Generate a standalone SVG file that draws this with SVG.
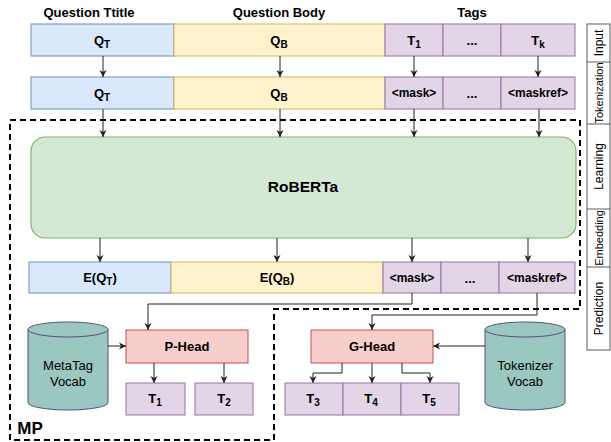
<svg xmlns="http://www.w3.org/2000/svg" width="611" height="442" viewBox="0 0 611 442">
<defs>
<marker id="arr" markerUnits="userSpaceOnUse" markerWidth="8" markerHeight="8" refX="7" refY="4" orient="auto">
<path d="M0,0.5 L7,4 L0,7.5 L2,4 Z" fill="#222"/>
</marker>
<style>
.t{font-family:"Liberation Sans",Arial,sans-serif;font-weight:bold;font-size:13px;fill:#000;text-anchor:middle}
.r{font-family:"Liberation Sans",Arial,sans-serif;font-size:13px;fill:#000;text-anchor:middle}
.s{font-size:10px}
.blue{fill:#dae8fc;stroke:#6c8ebf;stroke-width:1}
.yel{fill:#fff2cc;stroke:#d6b656;stroke-width:1}
.pur{fill:#e1d5e7;stroke:#9673a6;stroke-width:1}
.red{fill:#f8cecc;stroke:#b85450;stroke-width:1}
.grn{fill:#d5e8d4;stroke:#82b366;stroke-width:1.2}
.cyl{fill:#9ac7bf;stroke:#56517e;stroke-width:1}
.c{fill:none;stroke:#222;stroke-width:1;marker-end:url(#arr)}
.dash{fill:none;stroke:#000;stroke-width:2;stroke-dasharray:6 4}
.lab{font-family:"Liberation Sans",Arial,sans-serif;font-size:12px;fill:#000;text-anchor:middle}
</style>
</defs>
<rect width="611" height="442" fill="#fff"/>

<g id="headers">
<text class="t" x="89" y="17">Question Ttitle</text>
<text class="t" x="279" y="17">Question Body</text>
<text class="t" x="472" y="17">Tags</text>
</g>

<g id="input-row">
<rect class="blue" x="31" y="24" width="143" height="32"/>
<rect class="yel" x="174" y="24" width="211" height="32"/>
<rect class="pur" x="385" y="24" width="58" height="32"/>
<rect class="pur" x="443" y="24" width="58" height="32"/>
<rect class="pur" x="501" y="24" width="74" height="32"/>
<text class="t" x="102" y="45">Q<tspan class="s" dy="3">T</tspan></text>
<text class="t" x="279" y="45">Q<tspan class="s" dy="3">B</tspan></text>
<text class="t" x="414" y="45">T<tspan class="s" dy="3">1</tspan></text>
<text class="t" x="472" y="45">...</text>
<text class="t" x="538" y="45">T<tspan class="s" dy="3">k</tspan></text>
</g>

<g id="token-row">
<rect class="blue" x="31" y="77" width="143" height="32"/>
<rect class="yel" x="174" y="77" width="211" height="32"/>
<rect class="pur" x="385" y="77" width="58" height="32"/>
<rect class="pur" x="443" y="77" width="58" height="32"/>
<rect class="pur" x="501" y="77" width="74" height="32"/>
<text class="t" x="102" y="98">Q<tspan class="s" dy="3">T</tspan></text>
<text class="t" x="279" y="98">Q<tspan class="s" dy="3">B</tspan></text>
<text class="t" x="414" y="97" style="font-size:12px">&lt;mask&gt;</text>
<text class="t" x="472" y="98">...</text>
<text class="t" x="538" y="97" style="font-size:12px">&lt;maskref&gt;</text>
</g>

<g id="roberta">
<rect class="grn" x="31" y="137" width="545" height="101" rx="14" ry="14"/>
<text class="t" x="303" y="192" style="font-size:15.5px">RoBERTa</text>
</g>

<g id="embedding-row">
<rect class="blue" x="29" y="262" width="142" height="31"/>
<rect class="yel" x="171" y="262" width="212" height="31"/>
<rect class="pur" x="383" y="262" width="58" height="31"/>
<rect class="pur" x="441" y="262" width="58" height="31"/>
<rect class="pur" x="499" y="262" width="76" height="31"/>
<text class="t" x="100" y="282">E(Q<tspan class="s" dy="3">T</tspan><tspan dy="-3">)</tspan></text>
<text class="t" x="277" y="282">E(Q<tspan class="s" dy="3">B</tspan><tspan dy="-3">)</tspan></text>
<text class="t" x="412" y="282" style="font-size:12px">&lt;mask&gt;</text>
<text class="t" x="470" y="283">...</text>
<text class="t" x="537" y="282" style="font-size:12px">&lt;maskref&gt;</text>
</g>

<g id="metatag-vocab">
<path class="cyl" d="M28,329.5 A40,7.5 0 0 1 108,329.5 V402.5 A40,7.5 0 0 1 28,402.5 Z"/>
<path class="cyl" d="M28,329.5 A40,7.5 0 0 0 108,329.5" fill="none"/>
<text class="r" x="68" y="370">MetaTag</text>
<text class="r" x="68" y="386">Vocab</text>
</g>

<g id="p-head">
<rect class="red" x="126" y="330" width="122" height="33"/>
<text class="t" x="187" y="351">P-Head</text>
</g>

<g id="t1">
<rect class="pur" x="126" y="383" width="59" height="32"/>
<text class="t" x="155" y="403">T<tspan class="s" dy="3">1</tspan></text>
</g>
<g id="t2">
<rect class="pur" x="195" y="383" width="58" height="32"/>
<text class="t" x="224" y="403">T<tspan class="s" dy="3">2</tspan></text>
</g>

<g id="g-head">
<rect class="red" x="311" y="330" width="122" height="33"/>
<text class="t" x="372" y="351">G-Head</text>
</g>

<g id="tokenizer-vocab">
<path class="cyl" d="M485,329.5 A40,7.5 0 0 1 565,329.5 V402.5 A40,7.5 0 0 1 485,402.5 Z"/>
<path class="cyl" d="M485,329.5 A40,7.5 0 0 0 565,329.5" fill="none"/>
<text class="r" x="525" y="370">Tokenizer</text>
<text class="r" x="525" y="386">Vocab</text>
</g>

<g id="t3">
<rect class="pur" x="285" y="383" width="58" height="32"/>
<text class="t" x="313" y="403">T<tspan class="s" dy="3">3</tspan></text>
</g>
<g id="t4">
<rect class="pur" x="343" y="383" width="58" height="32"/>
<text class="t" x="371" y="403">T<tspan class="s" dy="3">4</tspan></text>
</g>
<g id="t5">
<rect class="pur" x="401" y="383" width="58" height="32"/>
<text class="t" x="429" y="403">T<tspan class="s" dy="3">5</tspan></text>
</g>

<g id="mp">
<path class="dash" d="M10,120 H580 V309 H274 V440 H10 Z"/>
<text class="t" x="30" y="434" style="font-size:17px">MP</text>
</g>

<g id="stage-labels">
<rect x="587" y="24" width="23" height="326" fill="#fff" stroke="#333" stroke-width="0.8"/>
<line x1="587" y1="62" x2="610" y2="62" stroke="#333" stroke-width="0.8"/>
<line x1="587" y1="124" x2="610" y2="124" stroke="#333" stroke-width="0.8"/>
<line x1="587" y1="209" x2="610" y2="209" stroke="#333" stroke-width="0.8"/>
<line x1="587" y1="267" x2="610" y2="267" stroke="#333" stroke-width="0.8"/>
<text class="lab" transform="translate(602.5,43) rotate(-90)">Input</text>
<text class="lab" transform="translate(602.5,93) rotate(-90)" style="font-size:11px">Tokenization</text>
<text class="lab" transform="translate(602.5,166.5) rotate(-90)">Learning</text>
<text class="lab" transform="translate(602.5,238) rotate(-90)" style="font-size:11px">Embedding</text>
<text class="lab" transform="translate(602.5,308.5) rotate(-90)">Prediction</text>
</g>

<g id="connectors">
<line class="c" x1="103" y1="56" x2="103" y2="77"/>
<line class="c" x1="280" y1="56" x2="280" y2="77"/>
<line class="c" x1="414" y1="56" x2="414" y2="77"/>
<line class="c" x1="538" y1="56" x2="538" y2="77"/>
<line class="c" x1="103" y1="109" x2="103" y2="137"/>
<line class="c" x1="280" y1="109" x2="280" y2="137"/>
<line class="c" x1="414" y1="109" x2="414" y2="137"/>
<line class="c" x1="539" y1="109" x2="539" y2="137"/>
<line class="c" x1="100" y1="238" x2="100" y2="262"/>
<line class="c" x1="277" y1="238" x2="277" y2="262"/>
<line class="c" x1="412" y1="238" x2="412" y2="262"/>
<line class="c" x1="528" y1="238" x2="528" y2="262"/>
<path class="c" d="M412,293 V304 H148 V330"/>
<path class="c" d="M537,293 V315 H372 V330"/>
<line class="c" x1="108" y1="346" x2="126" y2="346"/>
<line class="c" x1="485" y1="346" x2="433" y2="346"/>
<line class="c" x1="154" y1="363" x2="154" y2="383"/>
<line class="c" x1="224" y1="363" x2="224" y2="383"/>
<path class="c" d="M342,363 V373 H313 V383"/>
<line class="c" x1="372" y1="363" x2="372" y2="383"/>
<path class="c" d="M402,363 V373 H430 V383"/>
</g>
</svg>
